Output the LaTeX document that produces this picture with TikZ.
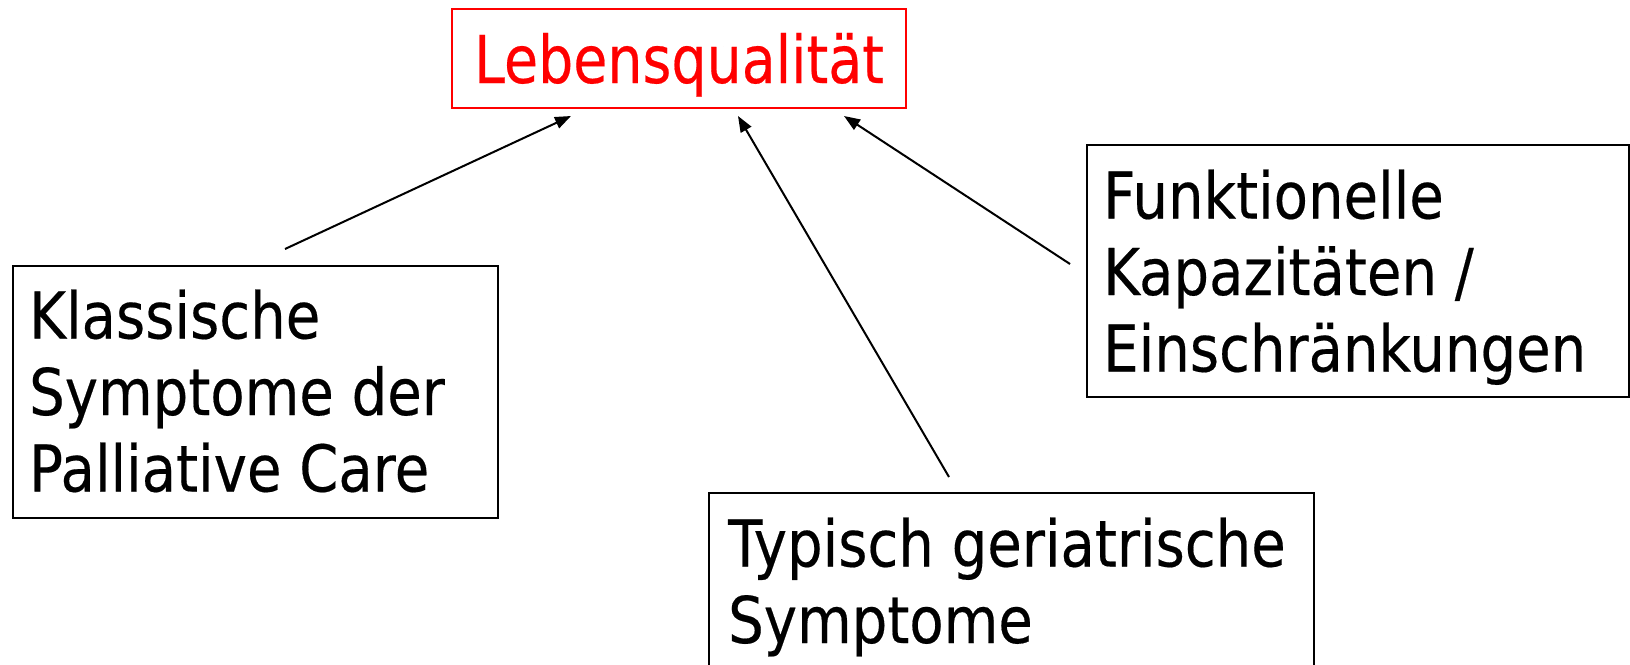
\documentclass[tikz,border=0pt]{standalone}
\usepackage{fontspec}
\setmainfont{DejaVu Sans}[FakeStretch=0.87,FakeBold=0.3]
\newfontfamily\titlefont{DejaVu Sans}[FakeStretch=0.84,FakeBold=0.3]
\usetikzlibrary{arrows.meta,calc}
\begin{document}
\begin{tikzpicture}[x=1pt,y=-1pt,
  boxframe/.style={draw=black,line width=2pt,minimum width=#1,minimum height=252,inner sep=0pt,anchor=north west},
  bodytext/.style={font=\fontsize{64.5}{76.5}\selectfont,align=left,inner sep=0pt,anchor=base west},
  titlebox/.style={draw=red,line width=2pt,text=red,minimum width=454,minimum height=99,inner sep=0pt,
    text height=55pt,text depth=6pt,font=\titlefont\fontsize{66}{79}\selectfont,anchor=north west},
  link/.style={-{Triangle[length=16pt,width=12pt]},line width=2pt}
]
\clip (0,0) rectangle (1630,664);
\fill[white] (0,0) rectangle (1630,664);

\node[titlebox] (lq) at (451,8) {Lebensqualität};

\node[boxframe=485] (klassbox) at (12,265) {};
\node[bodytext] (klass) at ($(klassbox.north west)+(17,226.5)$) {Klassische\\Symptome der\\Palliative Care};

\node[boxframe=542] (funkbox) at (1086,144) {};
\node[bodytext] (funk) at ($(funkbox.north west)+(17,227.5)$) {Funktionelle\\Kapazitäten /\\Einschränkungen};

\node[boxframe=605] (typbox) at (708,492) {};
\node[bodytext] (typ) at ($(typbox.north west)+(20,151)$) {Typisch geriatrische\\Symptome};

\coordinate (h1) at ($(lq.south west)+(120,7)$);
\coordinate (h2) at ($(lq.south west)+(287,7)$);
\coordinate (h3) at ($(lq.south west)+(393,7)$);
\coordinate (t1) at ($(klassbox.north west)+(273,-16)$);
\coordinate (t2) at ($(typbox.north west)+(241,-15)$);
\coordinate (t3) at ($(funkbox.north west)+(-16,120)$);

\draw[link] (t1) -- (h1);
\draw[link] (t2) -- (h2);
\draw[link] (t3) -- (h3);
\end{tikzpicture}
\end{document}
